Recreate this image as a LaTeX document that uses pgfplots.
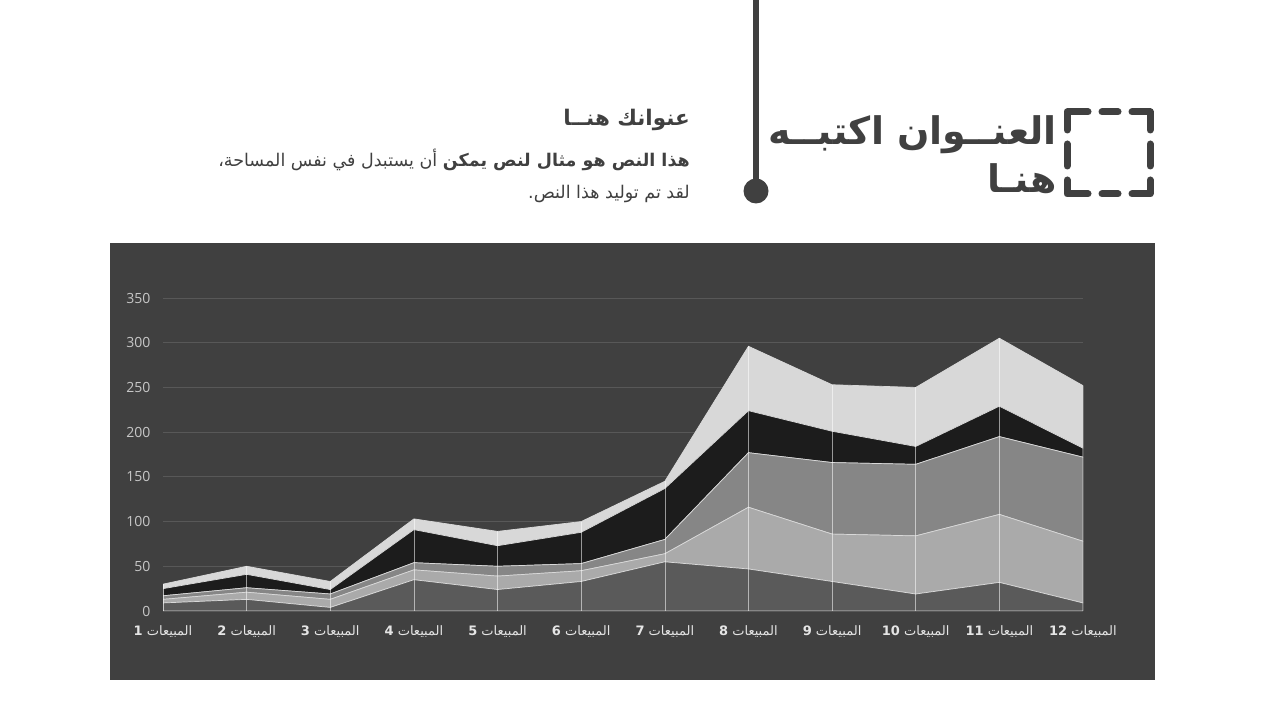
\documentclass[border=0pt]{standalone}
\usepackage{pgfplots}
\pgfplotsset{compat=1.18}
\usepackage{pgfplotstable}
\usepackage{fontspec}
\TeXXeTstate=1
\setmainfont{Open Sans}
\newfontfamily\arabicfont[Script=Arabic]{DejaVu Sans}

\definecolor{ink}{HTML}{404040}
\definecolor{panel}{HTML}{404040}
\definecolor{gridc}{HTML}{585858}
\definecolor{sA}{HTML}{5A5A5A}
\definecolor{sB}{HTML}{AAAAAA}
\definecolor{sC}{HTML}{868686}
\definecolor{sD}{HTML}{1C1C1C}
\definecolor{sE}{HTML}{D8D8D8}

% stacked values, series from bottom to top
\pgfplotstableread{
x s1 s2 s3 s4 s5
1  9  4  4  8  5
2  13 8  5  15 9
3  4  9  6  5  9
4  35 11 8  37 12
5  24 15 11 23 16
6  33 12 8  35 12
7  55 9  16 57 8
8  47 69 61 47 72
9  33 53 80 35 52
10 19 65 80 20 66
11 32 76 87 34 76
12 9  69 94 10 70
}\sales

\newcommand\lbl[1]{\arabicfont\beginR المبيعات \textbf{\beginL#1\endL}\endR}

\begin{document}
\begin{tikzpicture}[x=1pt,y=1pt]
\fill[white] (0,0) rectangle (1280,720);

% header
\draw[ink, line width=6pt] (756,720) -- (756,530);
\fill[ink] (756,529) circle (12.5);

\node[anchor=base east, inner sep=0, text=ink, font=\arabicfont\bfseries\fontsize{38}{42}\selectfont]
  at (1057,575) {\beginR العنــوان اكتبــه\endR};
\node[anchor=base east, inner sep=0, text=ink, font=\arabicfont\bfseries\fontsize{38}{42}\selectfont]
  at (1057,527) {\beginR هنـا\endR};

\begin{scope}[ink, line width=7pt, line cap=round, line join=round]
  \draw (1067,590) -- (1067,608) -- (1088,608);
  \draw (1102,608) -- (1118,608);
  \draw (1132,608) -- (1150,608) -- (1150,590);
  \draw (1067,576) -- (1067,554);
  \draw (1150,576) -- (1150,554);
  \draw (1067,540) -- (1067,526) -- (1088,526);
  \draw (1102,526) -- (1118,526);
  \draw (1132,526) -- (1150,526) -- (1150,540);
\end{scope}

\node[anchor=base east, inner sep=0, text=ink, font=\arabicfont\bfseries\fontsize{21.5}{24}\selectfont]
  at (690,594) {\beginR عنوانك هنــا\endR};
\node[anchor=base east, inner sep=0, text=ink, font=\arabicfont\fontsize{17.5}{20}\selectfont]
  at (690,553) {\beginR\textbf{هذا النص هو مثال لنص يمكن} أن يستبدل في نفس المساحة،\endR};
\node[anchor=base east, inner sep=0, text=ink, font=\arabicfont\fontsize{17.5}{20}\selectfont]
  at (690,521) {\beginR لقد تم توليد هذا النص.\endR};

% chart panel
\fill[panel] (110,40) rectangle (1155,477);

\begin{axis}[
    at={(163pt,109pt)}, anchor=south west,
    scale only axis,
    width=920pt, height=313pt,
    xmin=1, xmax=12,
    ymin=0, ymax=350,
    stack plots=y, area style,
    axis on top=false,
    xtick={1,...,12},
    xticklabels={\lbl{1},\lbl{2},\lbl{3},\lbl{4},\lbl{5},\lbl{6},\lbl{7},\lbl{8},\lbl{9},\lbl{10},\lbl{11},\lbl{12}},
    ytick={0,50,...,350},
    major tick length=0pt,
    ymajorgrids,
    grid style={gridc, line width=0.8pt},
    axis line style={draw=none},
    tick label style={/pgf/number format/assume math mode=true},
    yticklabel style={font=\fontsize{14}{16}\selectfont, text=white!78!black, xshift=-9pt},
    xticklabel style={font=\fontsize{13}{15}\selectfont, text=white!90!black, yshift=-11pt},
    every axis plot/.append style={draw=white!85!black, line width=0.7pt},
  ]
  \addplot[fill=sA] table[x=x, y=s1] {\sales} \closedcycle;
  \addplot[fill=sB] table[x=x, y=s2] {\sales} \closedcycle;
  \addplot[fill=sC] table[x=x, y=s3] {\sales} \closedcycle;
  \addplot[fill=sD] table[x=x, y=s4] {\sales} \closedcycle;
  \addplot[fill=sE] table[x=x, y=s5] {\sales} \closedcycle;
\end{axis}

% drop lines and bottom axis line
\begin{axis}[
    at={(163pt,109pt)}, anchor=south west,
    scale only axis,
    width=920pt, height=313pt,
    xmin=1, xmax=12,
    ymin=0, ymax=350,
    hide axis,
  ]
  \addplot[ycomb, white, opacity=0.55, line width=0.6pt]
    table[x=x, y expr=\thisrow{s1}+\thisrow{s2}+\thisrow{s3}+\thisrow{s4}+\thisrow{s5}] {\sales};
  \addplot[white!80!black, line width=0.8pt] coordinates {(1,0) (12,0)};
\end{axis}

\pgfresetboundingbox
\useasboundingbox (0,0) rectangle (1280,720);
\end{tikzpicture}
\end{document}
